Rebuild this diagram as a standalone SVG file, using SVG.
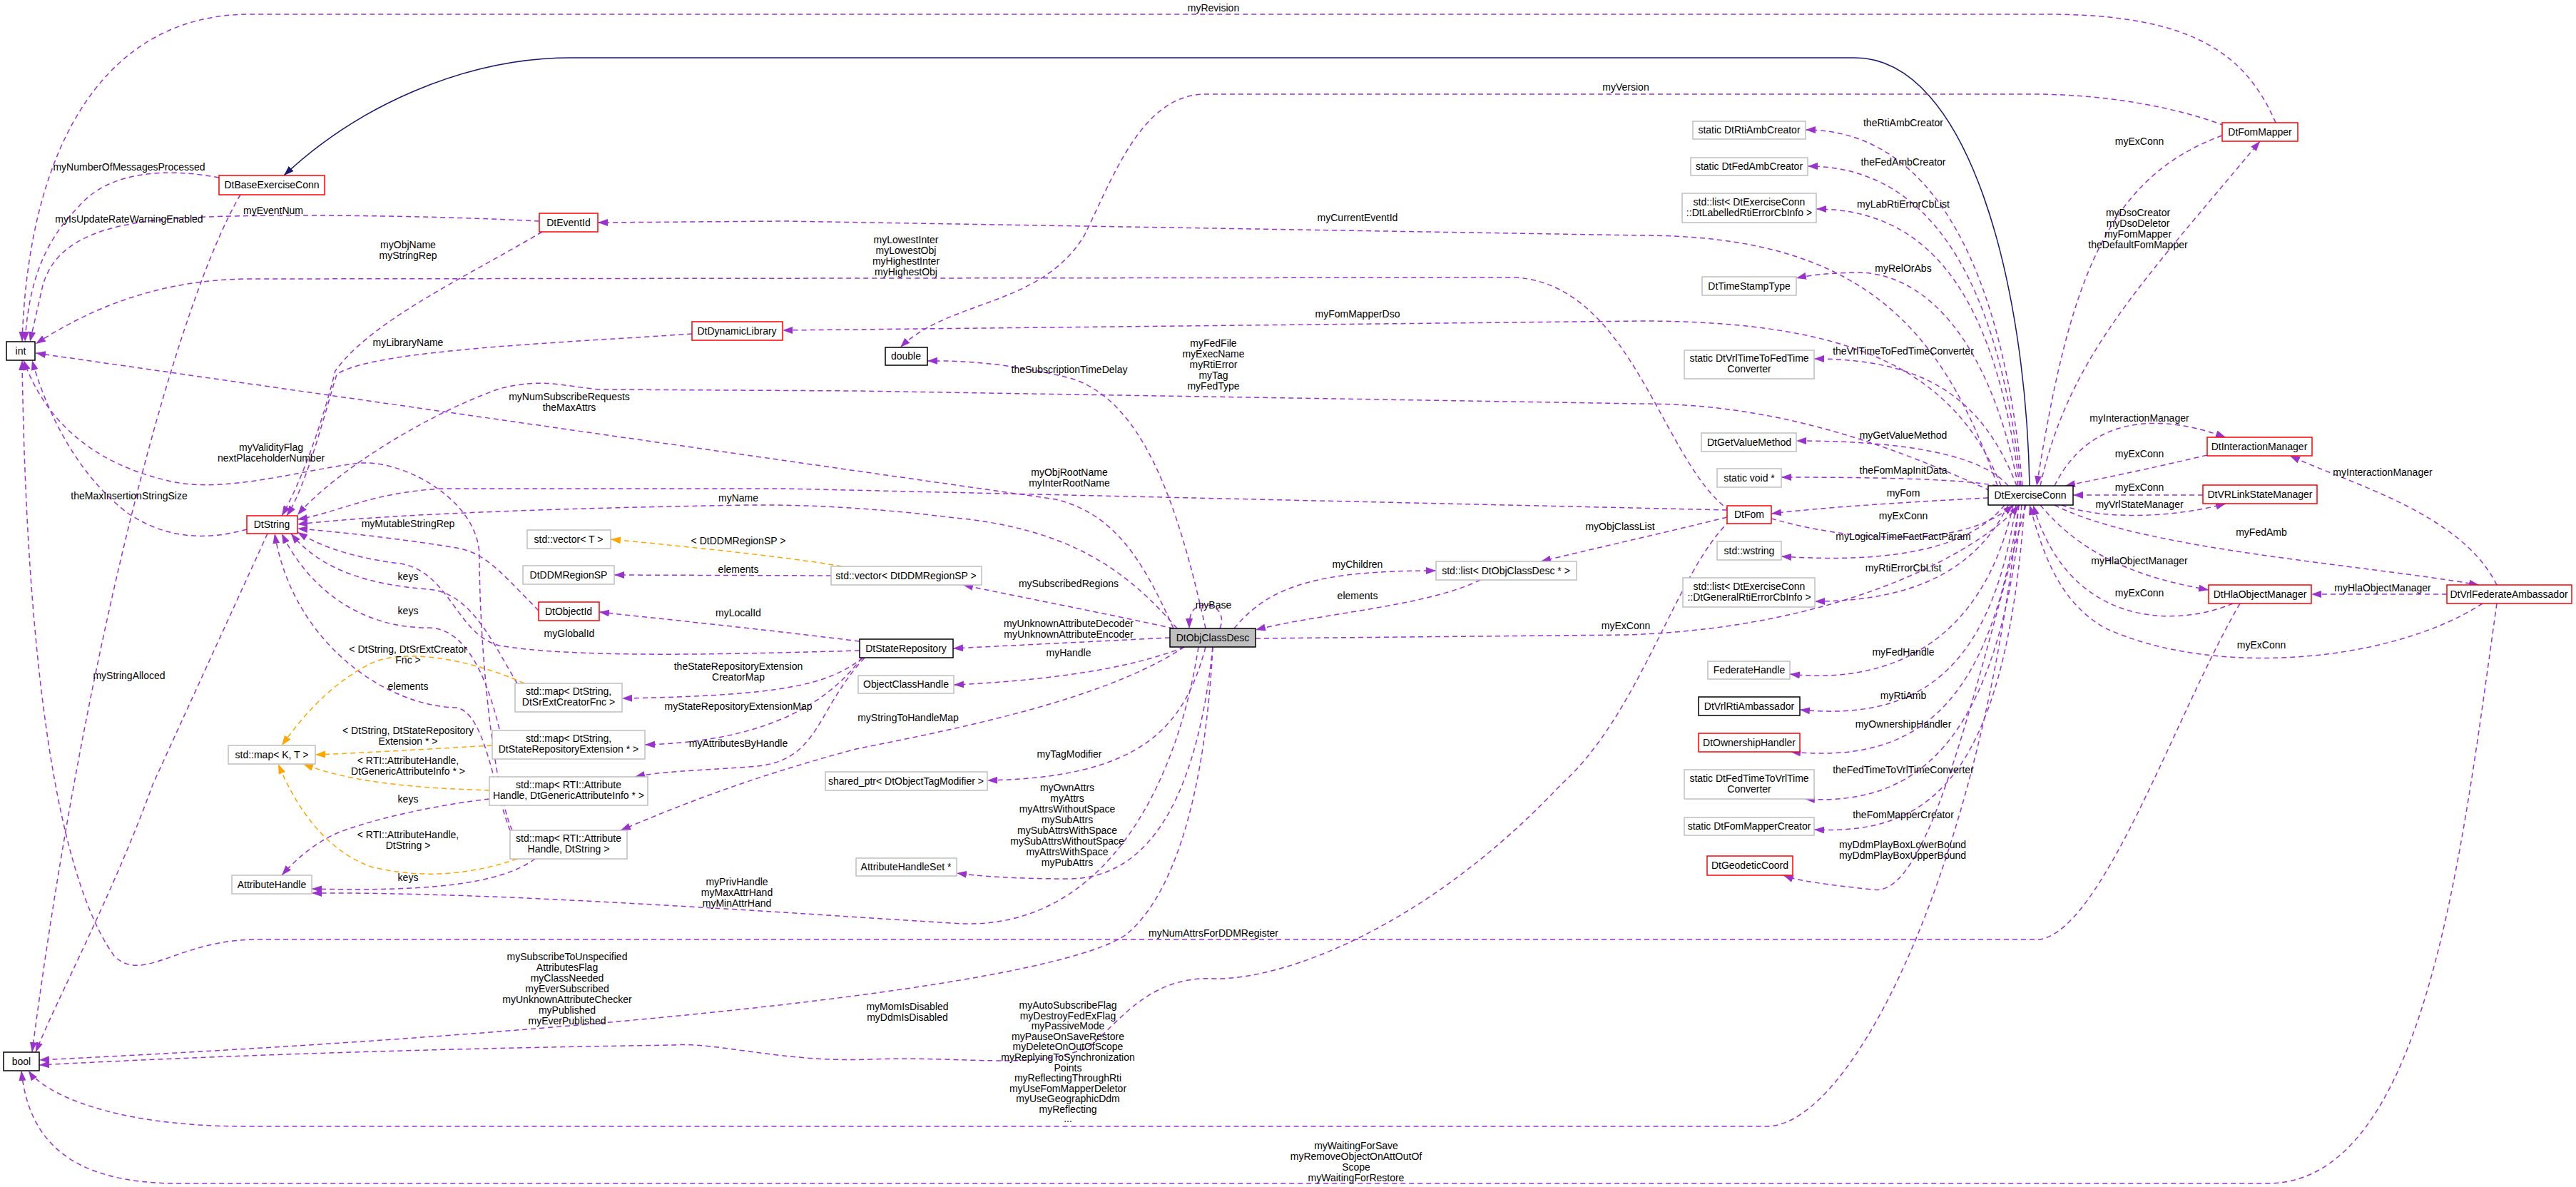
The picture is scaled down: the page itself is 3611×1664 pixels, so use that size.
<svg xmlns="http://www.w3.org/2000/svg" width="3611" height="1664" viewBox="0 0 3611 1664">
<defs>
<style>
text{font-family:"Liberation Sans",Arial,sans-serif;font-size:14px;fill:#000;text-anchor:middle}
.nb rect{fill:#fff;stroke:#bfbfbf;stroke-width:1.5}
.nr rect{fill:#fff;stroke:#ff0000;stroke-width:1.5}
.nk rect{fill:#fff;stroke:#000;stroke-width:1.5}
.nm rect{fill:#bfbfbf;stroke:#000;stroke-width:1.5}
.e{fill:none;stroke:#9a32cd;stroke-width:1.5;stroke-dasharray:7,5;marker-end:url(#ap)}
.o{fill:none;stroke:#ffa500;stroke-width:1.5;stroke-dasharray:7,5;marker-end:url(#ao)}
.n{fill:none;stroke:#191970;stroke-width:1.5;marker-end:url(#an)}
</style>
<marker id="ap" markerUnits="userSpaceOnUse" markerWidth="14" markerHeight="10" refX="14" refY="5" orient="auto"><path d="M0,0L14,5L0,10z" fill="#9a32cd"/></marker>
<marker id="ao" markerUnits="userSpaceOnUse" markerWidth="14" markerHeight="10" refX="14" refY="5" orient="auto"><path d="M0,0L14,5L0,10z" fill="#ffa500"/></marker>
<marker id="an" markerUnits="userSpaceOnUse" markerWidth="14" markerHeight="10" refX="14" refY="5" orient="auto"><path d="M0,0L14,5L0,10z" fill="#191970"/></marker>
</defs>
<rect width="3611" height="1664" fill="#fff"/>
<g id="connectors">
<path class="n" d="M2845,681 C2840,400 2760,81 2600,81 L800,81 C650,81 500,150 398,246"/>
<path class="e" d="M3190,172 C3150,80 3080,20 2870,20 L350,20 C150,20 40,200 31,479"/>
<path class="e" d="M3118,176 C3050,150 2950,132 2850,132 L1690,132 C1600,132 1560,250 1520,330 C1460,430 1330,420 1262,487"/>
<path class="e" d="M2800,681 C2720,450 2600,330 2300,330 L1100,310 L838,312"/>
<path class="e" d="M2805,681 C2740,520 2600,450 2300,450 L1100,463 L1097,463"/>
<path class="e" d="M2425,716 C2330,650 2290,400 2125,389 L352,391 C200,391 100,450 50,482"/>
<path class="e" d="M307,249 C260,240 160,230 110,290 C60,340 40,400 35,479"/>
<path class="e" d="M337,273 C250,420 120,900 45,1475"/>
<path class="e" d="M756,310 C600,302 400,300 290,304 C160,308 80,330 60,400 L42,479"/>
<path class="e" d="M760,325 C650,390 520,450 470,520 C450,600 420,680 395,723"/>
<path class="e" d="M970,468 C800,480 520,490 472,525 C455,580 430,680 402,723"/>
<path class="e" d="M1645,881 C1600,780 1560,720 1480,700 L1200,660 L50,495"/>
<path class="e" d="M2790,688 C2600,600 2450,566 2300,566 L1200,548 L840,546 C780,540 760,530 700,545 C600,580 470,660 417,722"/>
<path class="e" d="M2421,715 L1100,685 L620,685 C520,690 470,720 417,728"/>
<path class="e" d="M1650,881 C1580,800 1500,740 1330,725 C1250,715 1150,707 1050,708 C800,712 550,720 417,735"/>
<path class="e" d="M755,856 C700,800 680,775 640,768 C560,755 470,745 417,741"/>
<path class="e" d="M725,958 C690,900 660,830 600,826 C520,820 450,800 408,748"/>
<path class="e" d="M700,1022 C680,940 650,880 600,880 C500,880 430,820 395,748"/>
<path class="e" d="M715,1164 C690,1100 680,1000 640,992 C540,990 410,900 385,748"/>
<path class="e" d="M718,1164 C690,1100 672,900 672,780 C672,700 560,640 497,650 C420,660 320,690 245,676 C120,650 60,580 33,505"/>
<path class="e" d="M346,742 C300,755 240,760 180,720 C100,660 60,560 45,505"/>
<path class="e" d="M375,748 L214,1100 C160,1250 80,1400 50,1475"/>
<path class="e" d="M1165,807 L861,806"/>
<path class="o" d="M1180,794 C1100,780 950,765 856,756"/>
<path class="e" d="M1645,881 C1550,860 1420,835 1350,820"/>
<path class="e" d="M1205,899 C1050,880 950,870 840,858"/>
<path class="e" d="M1205,912 C1000,918 800,922 700,905 C640,890 630,800 560,790 C480,780 440,760 417,746"/>
<path class="e" d="M1210,922 C1160,960 1100,975 872,979"/>
<path class="e" d="M1208,922 C1150,1000 1050,1040 904,1044"/>
<path class="e" d="M1212,922 C1140,1000 1150,1070 1050,1075 C980,1080 920,1082 890,1089"/>
<path class="o" d="M735,958 C650,920 560,910 520,930 C460,960 420,1010 395,1045"/>
<path class="o" d="M690,1045 C600,1050 520,1055 442,1058"/>
<path class="o" d="M686,1108 C600,1105 500,1100 425,1071"/>
<path class="o" d="M725,1204 C650,1230 580,1230 520,1215 C450,1190 410,1120 390,1071"/>
<path class="e" d="M686,1120 C600,1130 520,1150 480,1165 C440,1180 410,1210 395,1227"/>
<path class="e" d="M750,1204 C700,1240 600,1250 437,1246"/>
<path class="e" d="M1660,907 C1550,980 1350,1020 1200,1050 C1050,1090 950,1130 870,1164"/>
<path class="e" d="M1680,907 C1650,1100 1550,1300 1350,1295 C1100,1280 700,1250 437,1252"/>
<path class="e" d="M1700,907 C1680,1100 1620,1230 1500,1232 C1420,1232 1370,1228 1341,1224"/>
<path class="e" d="M1690,907 C1660,1020 1600,1090 1384,1094"/>
<path class="e" d="M1660,907 C1580,940 1450,955 1337,960"/>
<path class="e" d="M1640,894 L1336,909"/>
<path class="e" d="M1690,881 C1650,700 1600,560 1500,530 C1420,510 1350,505 1300,506"/>
<path class="e" d="M1730,881 C1780,820 1850,800 2013,800"/>
<path class="e" d="M2075,813 C2000,850 1850,860 1760,883"/>
<path class="e" d="M2421,725 C2320,750 2230,770 2160,787"/>
<path class="e" d="M1710,881 C1722,852 1688,838 1672,856 C1668,862 1667,870 1667,881"/>
<path class="e" d="M1760,895 L2279,890 C2600,880 2790,760 2830,708"/>
<path class="e" d="M2787,698 C2650,705 2550,712 2483,720"/>
<path class="e" d="M2483,727 C2600,760 2750,770 2822,708"/>
<path class="e" d="M2835,681 C2810,400 2720,182 2531,182"/>
<path class="e" d="M2833,681 C2805,420 2720,233 2534,233"/>
<path class="e" d="M2831,681 C2800,440 2720,293 2546,293"/>
<path class="e" d="M2829,681 C2790,480 2700,380 2600,382 C2560,383 2535,386 2518,390"/>
<path class="e" d="M2827,681 C2780,560 2700,503 2543,503"/>
<path class="e" d="M2815,681 C2780,640 2680,618 2518,618"/>
<path class="e" d="M2800,681 C2750,672 2650,669 2497,669"/>
<path class="e" d="M2810,708 C2760,770 2650,790 2497,780"/>
<path class="e" d="M2815,708 C2770,800 2680,843 2544,843"/>
<path class="e" d="M2822,708 C2780,900 2650,960 2509,945"/>
<path class="e" d="M2826,708 C2790,950 2680,1010 2523,995"/>
<path class="e" d="M2830,708 C2790,1000 2680,1070 2510,1054"/>
<path class="e" d="M2834,708 C2800,1050 2680,1130 2530,1120"/>
<path class="e" d="M2838,708 C2810,1100 2700,1170 2543,1163"/>
<path class="e" d="M2840,708 C2760,1000 2700,1260 2625,1247 C2560,1240 2520,1235 2500,1227"/>
<path class="e" d="M2860,681 C2900,500 3000,400 3168,198"/>
<path class="e" d="M3115,190 C2950,250 2900,400 2855,681"/>
<path class="e" d="M2880,681 C2920,600 3000,570 3120,613"/>
<path class="e" d="M3094,638 C3000,660 2950,670 2895,681"/>
<path class="e" d="M3088,694 L2906,694"/>
<path class="e" d="M2890,708 C2950,730 3050,725 3120,706"/>
<path class="e" d="M2880,708 C3000,770 3300,790 3475,820"/>
<path class="e" d="M2860,708 C2920,780 3000,810 3096,827"/>
<path class="e" d="M3130,846 C3050,880 2900,880 2850,708"/>
<path class="e" d="M3480,846 C3350,930 3100,950 2950,880 C2880,840 2860,760 2845,708"/>
<path class="e" d="M3430,833 L3240,833"/>
<path class="e" d="M3500,820 C3450,720 3300,680 3210,639"/>
<path class="e" d="M3140,846 C3050,1000 2950,1300 2860,1317 L360,1317 C250,1317 200,1380 160,1340 C60,1200 35,800 31,505"/>
<path class="e" d="M2830,708 C2780,1200 2600,1579 2476,1579 L345,1579 C150,1579 60,1530 40,1501"/>
<path class="e" d="M3500,846 C3450,1200 3400,1659 3178,1659 L250,1659 C100,1659 40,1600 30,1501"/>
<path class="e" d="M1700,907 C1690,1100 1650,1250 1580,1309 C1500,1370 1000,1440 55,1486"/>
<path class="e" d="M2425,730 C2350,800 2300,1000 2188,1100 C2000,1300 1800,1373 1704,1372 C1600,1366 1560,1450 1520,1470 C1450,1500 1350,1480 1220,1485 C1100,1490 1000,1460 944,1465 C600,1470 300,1480 55,1493"/>
</g>
<g id="edge-labels">
<text x="1701" y="16">myRevision</text>
<text x="2279" y="127">myVersion</text>
<text x="181" y="239">myNumberOfMessagesProcessed</text>
<text x="181" y="312">myIsUpdateRateWarningEnabled</text>
<text x="383" y="300">myEventNum</text>
<text x="572" y="348">myObjName<tspan x="572" dy="15">myStringRep</tspan></text>
<text x="572" y="485">myLibraryName</text>
<text x="1903" y="310">myCurrentEventId</text>
<text x="1903" y="445">myFomMapperDso</text>
<text x="1270" y="341">myLowestInter<tspan x="1270" dy="15">myLowestObj</tspan><tspan x="1270" dy="15">myHighestInter</tspan><tspan x="1270" dy="15">myHighestObj</tspan></text>
<text x="1701" y="486">myFedFile<tspan x="1701" dy="15">myExecName</tspan><tspan x="1701" dy="15">myRtiError</tspan><tspan x="1701" dy="15">myTag</tspan><tspan x="1701" dy="15">myFedType</tspan></text>
<text x="1499" y="523">theSubscriptionTimeDelay</text>
<text x="798" y="561">myNumSubscribeRequests<tspan x="798" dy="15">theMaxAttrs</tspan></text>
<text x="380" y="632">myValidityFlag<tspan x="380" dy="15">nextPlaceholderNumber</tspan></text>
<text x="1499" y="667">myObjRootName<tspan x="1499" dy="15">myInterRootName</tspan></text>
<text x="181" y="700">theMaxInsertionStringSize</text>
<text x="1035" y="703">myName</text>
<text x="572" y="739">myMutableStringRep</text>
<text x="1035" y="763">&lt; DtDDMRegionSP &gt;</text>
<text x="1035" y="803">elements</text>
<text x="572" y="813">keys</text>
<text x="1498" y="823">mySubscribedRegions</text>
<text x="1903" y="796">myChildren</text>
<text x="1903" y="840">elements</text>
<text x="2271" y="743">myObjClassList</text>
<text x="1701" y="853">myBase</text>
<text x="572" y="861">keys</text>
<text x="1035" y="864">myLocalId</text>
<text x="1498" y="879">myUnknownAttributeDecoder<tspan x="1498" dy="15">myUnknownAttributeEncoder</tspan></text>
<text x="2279" y="882">myExConn</text>
<text x="798" y="893">myGlobalId</text>
<text x="1498" y="920">myHandle</text>
<text x="572" y="915">&lt; DtString, DtSrExtCreator<tspan x="572" dy="15">Fnc &gt;</tspan></text>
<text x="1035" y="939">theStateRepositoryExtension<tspan x="1035" dy="15">CreatorMap</tspan></text>
<text x="181" y="952">myStringAlloced</text>
<text x="572" y="967">elements</text>
<text x="1035" y="995">myStateRepositoryExtensionMap</text>
<text x="1273" y="1011">myStringToHandleMap</text>
<text x="572" y="1029">&lt; DtString, DtStateRepository<tspan x="572" dy="15">Extension * &gt;</tspan></text>
<text x="1035" y="1047">myAttributesByHandle</text>
<text x="1499" y="1062">myTagModifier</text>
<text x="572" y="1071">&lt; RTI::AttributeHandle,<tspan x="572" dy="15">DtGenericAttributeInfo * &gt;</tspan></text>
<text x="1496" y="1109">myOwnAttrs<tspan x="1496" dy="15">myAttrs</tspan><tspan x="1496" dy="15">myAttrsWithoutSpace</tspan><tspan x="1496" dy="15">mySubAttrs</tspan><tspan x="1496" dy="15">mySubAttrsWithSpace</tspan><tspan x="1496" dy="15">mySubAttrsWithoutSpace</tspan><tspan x="1496" dy="15">myAttrsWithSpace</tspan><tspan x="1496" dy="15">myPubAttrs</tspan></text>
<text x="572" y="1125">keys</text>
<text x="572" y="1175">&lt; RTI::AttributeHandle,<tspan x="572" dy="15">DtString &gt;</tspan></text>
<text x="572" y="1235">keys</text>
<text x="1033" y="1241">myPrivHandle<tspan x="1033" dy="15">myMaxAttrHand</tspan><tspan x="1033" dy="15">myMinAttrHand</tspan></text>
<text x="1701" y="1313">myNumAttrsForDDMRegister</text>
<text x="795" y="1346">mySubscribeToUnspecified<tspan x="795" dy="15">AttributesFlag</tspan><tspan x="795" dy="15">myClassNeeded</tspan><tspan x="795" dy="15">myEverSubscribed</tspan><tspan x="795" dy="15">myUnknownAttributeChecker</tspan><tspan x="795" dy="15">myPublished</tspan><tspan x="795" dy="15">myEverPublished</tspan></text>
<text x="1272" y="1416">myMomIsDisabled<tspan x="1272" dy="15">myDdmIsDisabled</tspan></text>
<text x="1497" y="1414">myAutoSubscribeFlag<tspan x="1497" dy="14.6">myDestroyFedExFlag</tspan><tspan x="1497" dy="14.6">myPassiveMode</tspan><tspan x="1497" dy="14.6">myPauseOnSaveRestore</tspan><tspan x="1497" dy="14.6">myDeleteOnOutOfScope</tspan><tspan x="1497" dy="14.6">myReplyingToSynchronization</tspan><tspan x="1497" dy="14.6">Points</tspan><tspan x="1497" dy="14.6">myReflectingThroughRti</tspan><tspan x="1497" dy="14.6">myUseFomMapperDeletor</tspan><tspan x="1497" dy="14.6">myUseGeographicDdm</tspan><tspan x="1497" dy="14.6">myReflecting</tspan><tspan x="1497" dy="13">...</tspan></text>
<text x="1901" y="1611">myWaitingForSave<tspan x="1901" dy="15">myRemoveObjectOnAttOutOf</tspan><tspan x="1901" dy="15">Scope</tspan><tspan x="1901" dy="15">myWaitingForRestore</tspan></text>
<text x="2668" y="177">theRtiAmbCreator</text>
<text x="2668" y="232">theFedAmbCreator</text>
<text x="2668" y="291">myLabRtiErrorCbList</text>
<text x="2668" y="381">myRelOrAbs</text>
<text x="2668" y="497">theVrlTimeToFedTimeConverter</text>
<text x="2668" y="615">myGetValueMethod</text>
<text x="2668" y="664">theFomMapInitData</text>
<text x="2668" y="696">myFom</text>
<text x="2668" y="728">myExConn</text>
<text x="2668" y="757">myLogicalTimeFactFactParam</text>
<text x="2668" y="801">myRtiErrorCbList</text>
<text x="2668" y="919">myFedHandle</text>
<text x="2668" y="980">myRtiAmb</text>
<text x="2668" y="1020">myOwnershipHandler</text>
<text x="2668" y="1084">theFedTimeToVrlTimeConverter</text>
<text x="2668" y="1147">theFomMapperCreator</text>
<text x="2667" y="1189">myDdmPlayBoxLowerBound<tspan x="2667" dy="15">myDdmPlayBoxUpperBound</tspan></text>
<text x="2999" y="203">myExConn</text>
<text x="2997" y="303">myDsoCreator<tspan x="2997" dy="15">myDsoDeletor</tspan><tspan x="2997" dy="15">myFomMapper</tspan><tspan x="2997" dy="15">theDefaultFomMapper</tspan></text>
<text x="2999" y="591">myInteractionManager</text>
<text x="2999" y="641">myExConn</text>
<text x="2999" y="688">myExConn</text>
<text x="2999" y="712">myVrlStateManager</text>
<text x="3170" y="751">myFedAmb</text>
<text x="2999" y="791">myHlaObjectManager</text>
<text x="2999" y="836">myExConn</text>
<text x="3340" y="667">myInteractionManager</text>
<text x="3340" y="829">myHlaObjectManager</text>
<text x="3170" y="909">myExConn</text>
</g>
<g id="int" class="nk"><rect x="9" y="479" width="40" height="26"/><text x="29" y="497">int</text></g>
<g id="bool" class="nk"><rect x="5" y="1475" width="50" height="26"/><text x="30" y="1493">bool</text></g>
<g id="double" class="nk"><rect x="1241" y="487" width="59" height="25"/><text x="1270" y="504">double</text></g>
<g id="DtBaseExerciseConn" class="nr"><rect x="307" y="246" width="148" height="27"/><text x="381" y="264">DtBaseExerciseConn</text></g>
<g id="DtEventId" class="nr"><rect x="756" y="299" width="82" height="26"/><text x="797" y="317">DtEventId</text></g>
<g id="DtDynamicLibrary" class="nr"><rect x="970" y="451" width="127" height="26"/><text x="1033" y="469">DtDynamicLibrary</text></g>
<g id="DtString" class="nr"><rect x="346" y="723" width="71" height="25"/><text x="381" y="740">DtString</text></g>
<g id="vectorT" class="nb"><rect x="739" y="743" width="117" height="26"/><text x="797" y="761">std::vector&lt; T &gt;</text></g>
<g id="DtDDMRegionSP" class="nb"><rect x="733" y="793" width="128" height="26"/><text x="797" y="811">DtDDMRegionSP</text></g>
<g id="DtObjectId" class="nr"><rect x="755" y="844" width="85" height="26"/><text x="797" y="862">DtObjectId</text></g>
<g id="mapSrExt" class="nb"><rect x="722" y="958" width="150" height="40"/><text x="797" y="974">std::map&lt; DtString,<tspan x="797" dy="15">DtSrExtCreatorFnc &gt;</tspan></text></g>
<g id="mapStateExt" class="nb"><rect x="690" y="1024" width="214" height="40"/><text x="797" y="1040">std::map&lt; DtString,<tspan x="797" dy="15">DtStateRepositoryExtension * &gt;</tspan></text></g>
<g id="mapKT" class="nb"><rect x="320" y="1045" width="122" height="26"/><text x="381" y="1063">std::map&lt; K, T &gt;</text></g>
<g id="mapAttrInfo" class="nb"><rect x="686" y="1089" width="222" height="40"/><text x="797" y="1105">std::map&lt; RTI::Attribute<tspan x="797" dy="15">Handle, DtGenericAttributeInfo * &gt;</tspan></text></g>
<g id="mapAttrString" class="nb"><rect x="715" y="1164" width="164" height="40"/><text x="797" y="1180">std::map&lt; RTI::Attribute<tspan x="797" dy="15">Handle, DtString &gt;</tspan></text></g>
<g id="AttributeHandle" class="nb"><rect x="325" y="1227" width="112" height="26"/><text x="381" y="1245">AttributeHandle</text></g>
<g id="vectorRegion" class="nb"><rect x="1165" y="794" width="211" height="26"/><text x="1270" y="812">std::vector&lt; DtDDMRegionSP &gt;</text></g>
<g id="DtStateRepository" class="nk"><rect x="1205" y="896" width="131" height="26"/><text x="1270" y="914">DtStateRepository</text></g>
<g id="ObjectClassHandle" class="nb"><rect x="1203" y="947" width="134" height="25"/><text x="1270" y="964">ObjectClassHandle</text></g>
<g id="sharedPtr" class="nb"><rect x="1157" y="1082" width="227" height="26"/><text x="1270" y="1100">shared_ptr&lt; DtObjectTagModifier &gt;</text></g>
<g id="AttributeHandleSet" class="nb"><rect x="1200" y="1203" width="141" height="25"/><text x="1270" y="1220">AttributeHandleSet *</text></g>
<g id="DtObjClassDesc" class="nm"><rect x="1640" y="881" width="120" height="26"/><text x="1700" y="899">DtObjClassDesc</text></g>
<g id="listObjClassDesc" class="nb"><rect x="2013" y="787" width="197" height="26"/><text x="2111" y="805">std::list&lt; DtObjClassDesc * &gt;</text></g>
<g id="DtFom" class="nr"><rect x="2421" y="709" width="62" height="25"/><text x="2452" y="726">DtFom</text></g>
<g id="DtExerciseConn" class="nk"><rect x="2787" y="681" width="119" height="27"/><text x="2846" y="699">DtExerciseConn</text></g>
<g id="DtRtiAmbCreator" class="nb"><rect x="2373" y="170" width="158" height="25"/><text x="2452" y="187">static DtRtiAmbCreator</text></g>
<g id="DtFedAmbCreator" class="nb"><rect x="2370" y="221" width="164" height="25"/><text x="2452" y="238">static DtFedAmbCreator</text></g>
<g id="listLabelled" class="nb"><rect x="2358" y="271" width="188" height="41"/><text x="2452" y="288">std::list&lt; DtExerciseConn<tspan x="2452" dy="15">::DtLabelledRtiErrorCbInfo &gt;</tspan></text></g>
<g id="DtTimeStampType" class="nb"><rect x="2386" y="388" width="132" height="26"/><text x="2452" y="406">DtTimeStampType</text></g>
<g id="DtVrlTimeToFedTimeConverter" class="nb"><rect x="2361" y="491" width="182" height="40"/><text x="2452" y="507">static DtVrlTimeToFedTime<tspan x="2452" dy="15">Converter</tspan></text></g>
<g id="DtGetValueMethod" class="nb"><rect x="2385" y="607" width="133" height="26"/><text x="2452" y="625">DtGetValueMethod</text></g>
<g id="staticVoid" class="nb"><rect x="2407" y="657" width="90" height="26"/><text x="2452" y="675">static void *</text></g>
<g id="wstring" class="nb"><rect x="2407" y="759" width="90" height="26"/><text x="2452" y="777">std::wstring</text></g>
<g id="listGeneral" class="nb"><rect x="2359" y="810" width="185" height="41"/><text x="2452" y="827">std::list&lt; DtExerciseConn<tspan x="2452" dy="15">::DtGeneralRtiErrorCbInfo &gt;</tspan></text></g>
<g id="FederateHandle" class="nb"><rect x="2394" y="927" width="115" height="25"/><text x="2452" y="944">FederateHandle</text></g>
<g id="DtVrlRtiAmbassador" class="nk"><rect x="2381" y="977" width="142" height="26"/><text x="2452" y="995">DtVrlRtiAmbassador</text></g>
<g id="DtOwnershipHandler" class="nr"><rect x="2381" y="1028" width="142" height="26"/><text x="2452" y="1046">DtOwnershipHandler</text></g>
<g id="DtFedTimeToVrlTimeConverter" class="nb"><rect x="2361" y="1079" width="182" height="41"/><text x="2452" y="1096">static DtFedTimeToVrlTime<tspan x="2452" dy="15">Converter</tspan></text></g>
<g id="DtFomMapperCreator" class="nb"><rect x="2361" y="1146" width="182" height="25"/><text x="2452" y="1163">static DtFomMapperCreator</text></g>
<g id="DtGeodeticCoord" class="nr"><rect x="2393" y="1200" width="120" height="27"/><text x="2453" y="1218">DtGeodeticCoord</text></g>
<g id="DtFomMapper" class="nr"><rect x="3115" y="172" width="106" height="26"/><text x="3168" y="190">DtFomMapper</text></g>
<g id="DtInteractionManager" class="nr"><rect x="3094" y="613" width="147" height="26"/><text x="3167" y="631">DtInteractionManager</text></g>
<g id="DtVRLinkStateManager" class="nr"><rect x="3088" y="680" width="160" height="26"/><text x="3168" y="698">DtVRLinkStateManager</text></g>
<g id="DtHlaObjectManager" class="nr"><rect x="3096" y="820" width="144" height="26"/><text x="3168" y="838">DtHlaObjectManager</text></g>
<g id="DtVrlFederateAmbassador" class="nr"><rect x="3430" y="820" width="175" height="26"/><text x="3517" y="838">DtVrlFederateAmbassador</text></g>
</svg>
